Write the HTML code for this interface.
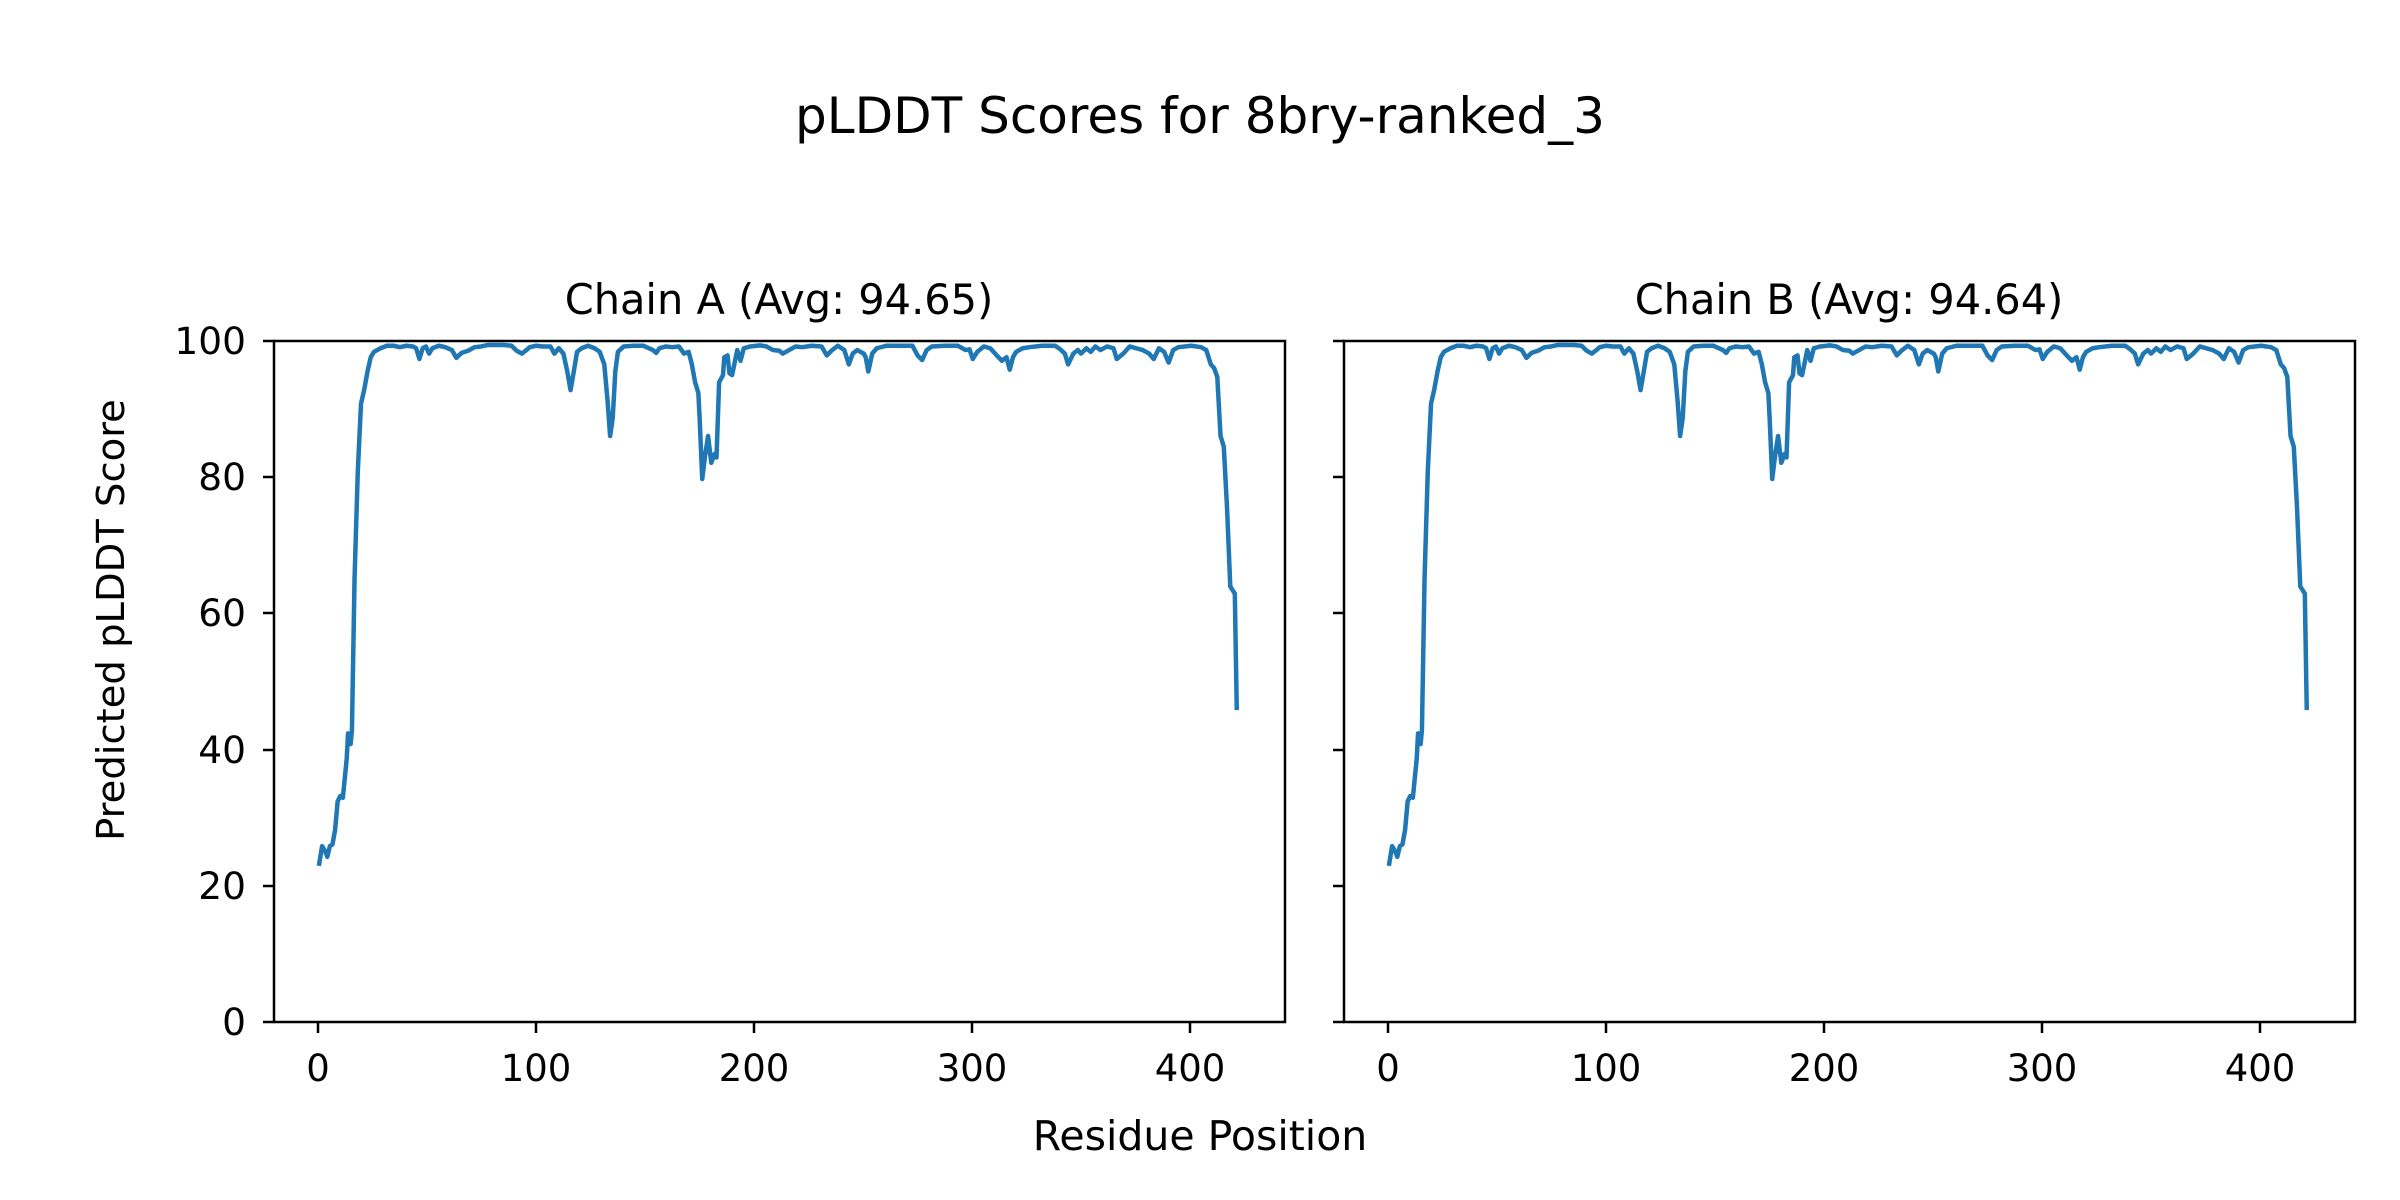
<!DOCTYPE html>
<html><head><meta charset="utf-8"><style>
html,body{margin:0;padding:0;background:#fff;}
svg{display:block;font-family:"DejaVu Sans","Liberation Sans",sans-serif;}
</style></head><body>
<svg width="2400" height="1200" viewBox="0 0 2400 1200" xmlns="http://www.w3.org/2000/svg">
<rect width="2400" height="1200" fill="#fff"/>
<defs>
<polyline id="curve" fill="none" stroke="#1f77b4" stroke-width="4.5" stroke-linejoin="round" vector-effect="non-scaling-stroke" points="75,1500 80,1445 85,1460 88,1475 92,1445 96,1440 100,1400 104,1320 108,1305 112,1310 118,1200 120,1130 124,1160 126,1120 130,700 135,400 140,210 145,170 150,120 155,80 160,65 170,55 180,48 190,48 200,52 210,48 220,50 225,55 230,85 235,55 240,50 245,70 250,55 260,48 270,52 280,60 287,82 295,68 305,62 315,52 325,50 335,46 345,46 360,46 372,48 380,62 388,70 395,60 400,52 410,48 420,50 432,50 438,70 445,55 452,70 458,120 463,172 468,120 473,65 480,55 490,48 500,55 508,65 515,100 520,200 524,300 528,250 532,120 536,65 545,50 560,48 575,48 590,60 595,68 600,55 610,50 620,52 630,50 638,70 645,65 650,100 655,150 660,180 662,250 666,420 670,360 675,300 680,375 685,350 688,360 692,150 698,130 700,80 705,75 708,125 712,130 716,95 720,60 725,90 730,55 740,50 755,47 765,50 775,60 785,62 790,70 800,60 810,50 820,52 835,48 850,50 858,75 865,62 875,48 885,60 892,100 898,70 905,60 915,70 918,80 922,120 928,70 935,55 950,48 970,48 990,48 998,75 1005,88 1012,60 1020,50 1040,48 1060,48 1072,60 1078,58 1083,85 1090,65 1100,50 1110,55 1120,75 1128,90 1135,80 1140,115 1145,80 1150,65 1160,55 1170,52 1190,48 1210,48 1218,58 1225,70 1230,100 1238,70 1245,60 1250,70 1258,55 1265,65 1272,50 1280,60 1290,50 1300,55 1305,85 1315,70 1325,50 1335,55 1345,60 1355,70 1362,85 1370,55 1378,65 1385,95 1392,60 1400,52 1420,48 1435,52 1443,60 1450,100 1455,110 1460,135 1465,300 1470,330 1475,500 1480,720 1487,740 1490,1065"/>
</defs>

<text x="1200" y="133" font-size="50" text-anchor="middle">pLDDT Scores for 8bry-ranked_3</text>

<!-- Chain A -->
<g>
<use href="#curve" transform="translate(270.2,328.55) scale(0.6487,0.3582)"/>
<rect x="274" y="341" width="1011" height="681" fill="none" stroke="#000" stroke-width="2.5"/>
<text x="779" y="314" font-size="41.5" text-anchor="middle">Chain A (Avg: 94.65)</text>
<g stroke="#000" stroke-width="2.5">
<line x1="263" y1="341" x2="274" y2="341"/><line x1="263" y1="477" x2="274" y2="477"/>
<line x1="263" y1="613" x2="274" y2="613"/><line x1="263" y1="750" x2="274" y2="750"/>
<line x1="263" y1="886" x2="274" y2="886"/><line x1="263" y1="1022" x2="274" y2="1022"/>
<line x1="318" y1="1022" x2="318" y2="1033"/><line x1="536" y1="1022" x2="536" y2="1033"/>
<line x1="754" y1="1022" x2="754" y2="1033"/><line x1="972" y1="1022" x2="972" y2="1033"/>
<line x1="1190" y1="1022" x2="1190" y2="1033"/>
</g>
<g font-size="37.5" text-anchor="end">
<text x="246" y="354">100</text><text x="246" y="490">80</text><text x="246" y="626">60</text>
<text x="246" y="763">40</text><text x="246" y="899">20</text><text x="246" y="1035">0</text>
</g>
<g font-size="37" text-anchor="middle">
<text x="318" y="1081">0</text><text x="536" y="1081">100</text><text x="754" y="1081">200</text>
<text x="972" y="1081">300</text><text x="1190" y="1081">400</text>
</g>
</g>

<!-- Chain B -->
<g>
<use href="#curve" transform="translate(1340.2,328.55) scale(0.6487,0.3582)"/>
<rect x="1344" y="341" width="1011" height="681" fill="none" stroke="#000" stroke-width="2.5"/>
<text x="1849" y="314" font-size="41.5" text-anchor="middle">Chain B (Avg: 94.64)</text>
<g stroke="#000" stroke-width="2.5">
<line x1="1333" y1="341" x2="1344" y2="341"/><line x1="1333" y1="477" x2="1344" y2="477"/>
<line x1="1333" y1="613" x2="1344" y2="613"/><line x1="1333" y1="750" x2="1344" y2="750"/>
<line x1="1333" y1="886" x2="1344" y2="886"/><line x1="1333" y1="1022" x2="1344" y2="1022"/>
<line x1="1388" y1="1022" x2="1388" y2="1033"/><line x1="1606" y1="1022" x2="1606" y2="1033"/>
<line x1="1824" y1="1022" x2="1824" y2="1033"/><line x1="2042" y1="1022" x2="2042" y2="1033"/>
<line x1="2260" y1="1022" x2="2260" y2="1033"/>
</g>
<g font-size="37" text-anchor="middle">
<text x="1388" y="1081">0</text><text x="1606" y="1081">100</text><text x="1824" y="1081">200</text>
<text x="2042" y="1081">300</text><text x="2260" y="1081">400</text>
</g>
</g>

<text x="1200" y="1150" font-size="41" text-anchor="middle">Residue Position</text>
<text transform="translate(124,620) rotate(-90)" font-size="38.5" text-anchor="middle">Predicted pLDDT Score</text>
</svg>
</body></html>
